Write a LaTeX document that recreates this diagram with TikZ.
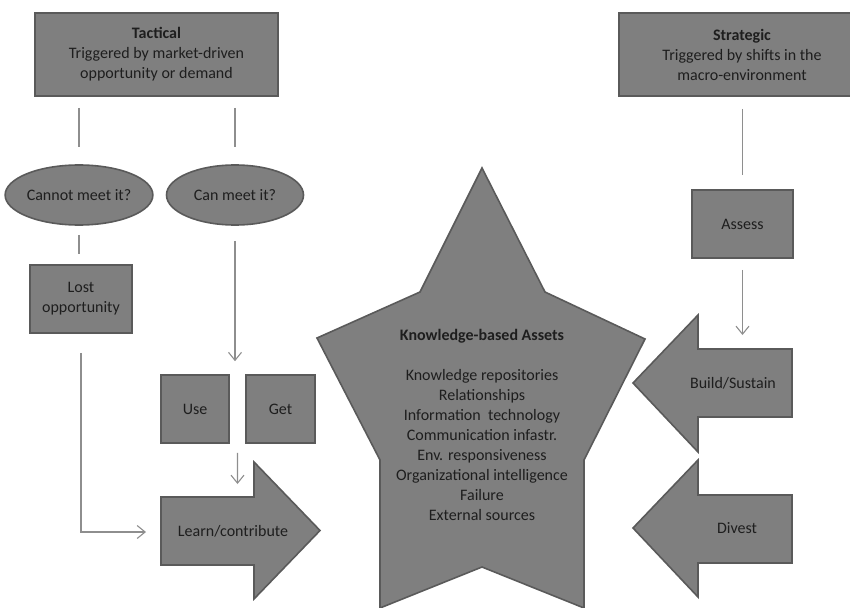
\documentclass[tikz,border=0pt]{standalone}
\usepackage{fontspec}
\setmainfont{Carlito}
\usetikzlibrary{arrows.meta,calc,shapes.geometric}
\definecolor{boxfill}{HTML}{7F7F7F}
\definecolor{boxedge}{HTML}{5A5A5A}
\definecolor{linegray}{HTML}{8E8E8E}
\definecolor{txt}{HTML}{1E1E1E}
\begin{document}
\begin{tikzpicture}[x=1pt,y=-1pt,
 font=\fontsize{16}{20}\selectfont, text=txt,
 blk/.style={draw=boxedge, fill=boxfill, line width=1.6pt, text=txt},
 rbox/.style={blk, rectangle, inner sep=0pt, align=center},
 oval/.style={blk, ellipse, inner sep=0pt},
 lbl/.style={inner sep=0pt, align=center, text=txt},
 conn/.style={draw=linegray, line width=1.1pt},
 arr/.style={conn, -{Straight Barb[length=8pt,width=13pt,line width=1.1pt]}},
]
\useasboundingbox (0,0) rectangle (850,607);
\clip (0,0) rectangle (850,607);

% top boxes
\node[rbox, minimum width=243pt, minimum height=83pt] (tact) at (156.5,54.5)
  {\textbf{Tactical}\\Triggered by market-driven\\opportunity or demand};
\node[rbox, minimum width=246pt, minimum height=83pt] (strat) at (742,54.5)
  {\textbf{Strategic}\\Triggered by shifts in the\\macro-environment};

% ellipses
\node[oval, minimum width=138pt, minimum height=60pt] (cannot) at (79,195) {Cannot meet it?};
\node[oval, minimum width=137pt, minimum height=60pt] (can) at (235,195) {Can meet it?};

% small boxes
\node[rbox, minimum width=102pt, minimum height=68pt] (lost) at (81,299) {Lost\\opportunity};
\node[rbox, minimum width=68pt, minimum height=68pt] (use) at (195,409) {Use};
\node[rbox, minimum width=69pt, minimum height=68pt] (get) at (280.5,409) {Get};
\node[rbox, minimum width=101pt, minimum height=68pt] (assess) at (742.5,224) {Assess};

% star
\draw[blk] (482,168) -- (545,292) -- (645,339) -- (584,460) -- (584,608)
  -- (482,567) -- (380,608) -- (380,460) -- (317,338) -- (420,292) -- cycle;
\node[lbl] (kba) at (482,425)
  {\textbf{Knowledge-based Assets}\\[20pt]
   Knowledge repositories\\
   Relationships\\
   Information\ \ technology\\
   Communication infastr.\\
   Env. responsiveness\\
   Organizational intelligence\\
   Failure\\
   External sources};

% block arrows
\draw[blk] (161,497) -- (254,497) -- (254,462) -- (320,530.5) -- (254,599)
  -- (254,565) -- (161,565) -- cycle;
\node[lbl] (learn) at (233,531) {Learn/contribute};
\draw[blk] (633,383) -- (698,315) -- (698,349) -- (792,349) -- (792,417)
  -- (698,417) -- (698,452) -- cycle;
\node[lbl] (build) at (733,383) {Build/Sustain};
\draw[blk] (633,528) -- (698,460) -- (698,495) -- (792,495) -- (792,563)
  -- (698,563) -- (698,597) -- cycle;
\node[lbl] (divest) at (737,528) {Divest};

\coordinate (learnL) at (161,532);
\coordinate (learnT) at (237.5,497);
\coordinate (buildT) at (742,349);

% connectors
\draw[conn, shorten <=11pt, shorten >=17pt] (tact.south -| cannot.north) -- (cannot.north);
\draw[conn, shorten <=11pt, shorten >=17pt] (tact.south -| can.north) -- (can.north);
\draw[conn, shorten <=9pt, shorten >=10pt] (cannot.south) -- (cannot.south |- lost.north);
\draw[arr, shorten <=19pt, shorten >=15pt] (lost.south) |- (learnL);
\draw[arr, shorten <=15pt, shorten >=13pt] (can.south) -- (can.south |- use.north);
\draw[arr, shorten <=9pt, shorten >=13pt] ($(use.south east)!0.5!(get.south west)$) -- (learnT);
\draw[conn, shorten <=12pt, shorten >=14pt] (strat.south -| assess.north) -- (assess.north);
\draw[arr, shorten <=11pt, shorten >=14pt] (assess.south) -- (assess.south |- buildT);
\end{tikzpicture}
\end{document}
